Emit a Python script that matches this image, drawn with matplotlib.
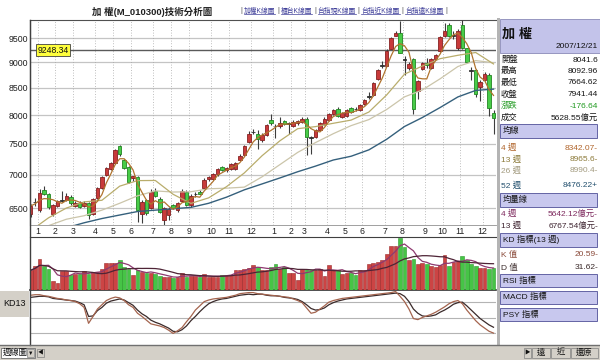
import matplotlib
matplotlib.use("Agg")
import matplotlib.pyplot as plt
import numpy as np
import pandas as pd
from matplotlib.patches import Rectangle
from matplotlib.lines import Line2D
from matplotlib.ticker import NullLocator, NullFormatter
import matplotlib.transforms as mtrans

plt.rcParams['font.family'] = ['Liberation Sans', 'Noto Sans CJK TC', 'DejaVu Sans']

# ---------------- data (weekly TAIEX) ----------------
opens = [6415, 6585, 6470, 6768, 6707, 6413, 6530, 6603, 6618, 6662,
         6530, 6574, 6530, 6574, 6413, 6647, 6798, 6997, 7092, 7187,
         7467, 7235, 7123, 6950, 6966, 6413, 6620, 6500, 6753, 6633,
         6329, 6400, 6544, 6470, 6600, 6738, 6544, 6700, 6740, 6798,
         6930, 6935, 7010, 7120, 7075, 7090, 7090, 7240, 7320, 7530,
         7700, 7660, 7560, 7650, 7910, 7805, 7805, 7893, 7850, 7805,
         7860, 7880, 7930, 7610, 7620, 7736, 7845, 7910, 8020, 8110,
         7970, 7985, 8120, 8110, 8089, 8198, 8335, 8365, 8670, 8935,
         8930, 9280, 9550, 9610, 9060, 8880, 9057, 8440, 8870, 8990,
         8890, 9060, 9220, 9540, 9770, 9550, 9300, 9780, 9290, 8840,
         8840, 8510, 8660, 8740, 8041.6]
highs = [6560, 6650, 6790, 6830, 6720, 6560, 6620, 6753, 6720, 6690,
         6600, 6600, 6600, 6590, 6650, 6810, 6980, 7130, 7200, 7420,
         7490, 7260, 7140, 6990, 6980, 6620, 6640, 6780, 6800, 6660,
         6510, 6520, 6560, 6590, 6780, 6760, 6700, 6730, 6760, 6950,
         6990, 7030, 7110, 7140, 7120, 7190, 7210, 7330, 7480, 7720,
         7760, 7730, 7680, 7850, 8010, 7850, 7960, 7920, 7870, 7920,
         7920, 7960, 7960, 7640, 7750, 7870, 7960, 8030, 8100, 8150,
         8060, 8100, 8150, 8150, 8200, 8290, 8420, 8620, 8870, 9030,
         9260, 9520, 9660, 9860, 9120, 9000, 9080, 8660, 9010, 9080,
         9080, 9160, 9540, 9820, 9830, 9650, 9690, 9890, 9300, 8900,
         8870, 8650, 8800, 8780, 8092.96]
lows = [6370, 6530, 6450, 6690, 6490, 6380, 6510, 6590, 6600, 6550,
        6510, 6500, 6510, 6340, 6400, 6630, 6780, 6980, 7070, 7170,
        7300, 7090, 6870, 6900, 6300, 6290, 6400, 6480, 6660, 6430,
        6230, 6330, 6480, 6450, 6590, 6530, 6520, 6670, 6700, 6780,
        6900, 6920, 6990, 7060, 7050, 7070, 7080, 7230, 7300, 7520,
        7670, 7420, 7540, 7640, 7830, 7600, 7780, 7830, 7660, 7790,
        7830, 7860, 7320, 7340, 7600, 7720, 7830, 7900, 8000, 7960,
        7950, 7970, 8030, 8080, 8080, 8190, 8300, 8350, 8650, 8880,
        8920, 9260, 9540, 9180, 8750, 8850, 8010, 8300, 8850, 8880,
        8870, 9040, 9200, 9530, 9530, 9480, 9250, 9260, 8990, 8650,
        8330, 8250, 8640, 7985, 7664.62]
closes = [6530, 6595, 6723, 6707, 6515, 6544, 6603, 6618, 6677, 6574,
          6574, 6515, 6570, 6399, 6633, 6798, 6966, 7108, 7187, 7399,
          7332, 7108, 6890, 6980, 6471, 6588, 6428, 6738, 6677, 6442,
          6500, 6490, 6500, 6574, 6753, 6544, 6677, 6710, 6707, 6920,
          6960, 7010, 7090, 7075, 7110, 7175, 7190, 7300, 7470, 7670,
          7700, 7580, 7650, 7823, 7865, 7800, 7858, 7840, 7855, 7880,
          7890, 7930, 7620, 7600, 7736, 7858, 7928, 8018, 8090, 7985,
          8042, 8089, 8050, 8105, 8180, 8272, 8350, 8600, 8845, 8950,
          9230, 9500, 9607, 9190, 9050, 8960, 8115, 8630, 8990, 8950,
          9057, 9140, 9520, 9660, 9540, 9560, 9660, 9290, 9010, 8820,
          8380, 8610, 8760, 8118, 7941.44]
volumes = [5100, 6100, 7900, 6200, 5350, 2300, 1860, 4840, 4840, 3820,
           4070, 4070, 4840, 4250, 4660, 4660, 5350, 6950, 6950, 6950,
           7640, 5940, 5530, 3820, 5100, 4660, 4400, 4500, 4250, 3570,
           3390, 3390, 3130, 3390, 4400, 3390, 3570, 3570, 3390, 4070,
           3390, 3390, 3390, 4000, 4000, 4000, 5270, 5100, 5530, 5780,
           6370, 5860, 5100, 5100, 5940, 6800, 5530, 5940, 4400, 4400,
           2550, 5530, 5530, 5270, 5270, 5530, 3570, 6370, 5270, 5100,
           4250, 4400, 4400, 3820, 5270, 5270, 6800, 6950, 7200, 7820,
           9350, 11460, 11460, 13570, 11030, 7820, 8070, 6800, 6950, 6800,
           6110, 5940, 6370, 9170, 6110, 7200, 7460, 8910, 7640, 6620,
           6110, 5780, 5780, 5530, 5628.55]
k_values = [92, 93, 93, 91, 90, 88, 86, 85, 83, 82,
            80, 76, 69, 39, 52, 66, 74, 82, 86, 88.5,
            87, 82, 74, 69, 58, 52, 45, 38, 36, 34,
            31, 26, 20, 25, 31, 42, 52, 64, 72, 80,
            83, 85, 86, 87, 88, 90, 92, 95, 96, 97,
            97, 95, 94, 93, 92, 91, 90, 89, 88, 85,
            82, 78, 68, 58, 60, 66, 72, 79, 82, 84,
            86, 87, 88, 89, 90, 91, 92, 93, 94, 95,
            96, 97, 99, 90, 80, 66, 48, 46, 50, 53,
            56, 60, 65, 70, 76, 80, 82, 76, 64, 54,
            44, 36, 30, 24, 20.59]
d_values = [88, 89, 90, 90, 89, 86, 85, 84, 83, 82,
            81, 78, 74, 52, 53, 63, 69, 77, 81, 83,
            85, 83, 78, 73, 64, 57, 52, 45, 41, 38,
            34, 30, 24, 23, 27, 34, 44, 52, 61, 69,
            76, 80, 83, 85, 86, 88, 90, 92, 93, 94,
            93, 94, 94, 92, 91, 91, 90, 88, 87, 86,
            84, 80, 74, 67, 64, 65, 68, 74, 78, 81,
            83, 85, 86, 87, 88, 89, 90, 91, 92, 93,
            94, 95, 96, 95, 90, 80, 66, 58, 53, 52,
            53, 55, 60, 64, 69, 75, 78, 79, 72, 64,
            56, 48, 42, 36, 31.62]
# longer moving averages, every 4th week
ma_weeks = list(range(0, 105, 4))
ma13 = [6180, 6360, 6500, 6590, 6614, 6826, 6911, 6913, 6703, 6568, 6650, 6818, 7030,
        7306, 7553, 7760, 7796, 7854, 7910, 8054, 8368, 8764, 8924, 9072, 9141, 9198, 8966]
ma26 = [6150, 6250, 6340, 6390, 6470, 6570, 6680, 6754, 6737, 6741, 6786, 6795, 6811,
        6970, 7162, 7360, 7523, 7674, 7813, 7919, 8100, 8331, 8460, 8674, 8915, 9034, 8990]
ma52 = [6080, 6150, 6220, 6290, 6350, 6400, 6450, 6470, 6490, 6510, 6570, 6660, 6770,
        6860, 6952, 7049, 7138, 7236, 7297, 7402, 7579, 7798, 7955, 8135, 8330, 8452, 8476]
month_labels = ['1', '2', '3', '4', '5', '6', '7', '8', '9', '10', '11', '12',
                '1', '2', '3', '4', '5', '6', '7', '8', '9', '10', '11', '12']
month_first_week = [2, 6, 10, 15, 19, 23, 28, 32, 36, 41, 45, 50,
                    55, 59, 62, 67, 71, 75, 80, 84, 89, 93, 97, 102]
price_ticks = [6500, 7000, 7500, 8000, 8500, 9000, 9500]
ref_price = 9248.34

info_rows = [('開盤', '8041.6'), ('最高', '8092.96'), ('最低', '7664.62'),
             ('收盤', '7941.44'), ('漲跌', '-176.64'), ('成交', '5628.55億元')]
ma_rows = [('4 週', '8342.07-'), ('13 週', '8965.6-'), ('26 週', '8990.4-'), ('52 週', '8476.22+')]
vol_rows = [('4 週', '5642.12億元-'), ('13 週', '6767.54億元-')]
kd_rows = [('K 值', '20.59-'), ('D 值', '31.62-')]
links = ['加權K線圖', '櫃台K線圖', '台指現K線圖', '台指近K線圖', '台指遠K線圖']

# ---------------- figure helpers ----------------
W, H = 600, 360
fig = plt.figure(figsize=(6, 3.6), dpi=100)
fig.patch.set_facecolor('white')


def frect(x0, y0, x1, y1):
    return [x0 / W, 1 - y1 / H, (x1 - x0) / W, (y1 - y0) / H]


def fbox(x0, y0, x1, y1, fc, ec='none', lw=0.8, z=0):
    r = Rectangle((x0 / W, 1 - y1 / H), (x1 - x0) / W, (y1 - y0) / H,
                  transform=fig.transFigure, facecolor=fc, edgecolor=ec,
                  linewidth=lw, zorder=z)
    fig.add_artist(r)
    return r


def fline(x0, y0, x1, y1, color, lw=1.0, z=5):
    fig.add_artist(Line2D([x0 / W, x1 / W], [1 - y0 / H, 1 - y1 / H],
                          transform=fig.transFigure, color=color, lw=lw, zorder=z))


def ftext(x, y, s, **kw):
    kw.setdefault('va', 'center')
    return fig.text(x / W, 1 - y / H, s, **kw)


n = len(closes)
idx = np.arange(n)
XL = (-0.16, 104.56)
o = np.array(opens, float)
c = np.array(closes, float)
hi = np.array(highs, float)
lo = np.array(lows, float)
up = c >= o
doji = np.abs(c - o) / o < 0.0025
month_pos = [m - 0.45 for m in month_first_week]

# ---------------- main price panel ----------------
ax = fig.add_axes(frect(30, 20, 496, 225))
ax.set_yscale('log')
ax.set_ylim(6259, 9890)
ax.set_xlim(*XL)
ax.yaxis.set_minor_locator(NullLocator())
ax.yaxis.set_minor_formatter(NullFormatter())
ax.set_yticks(price_ticks)
ax.set_yticklabels([str(p) for p in price_ticks])
ax.tick_params(axis='y', length=0, pad=1.5, labelsize=6.3, colors='#202020')
ax.set_xticks(month_pos)
ax.set_xticklabels(month_labels)
ax.tick_params(axis='x', length=0, pad=1.2, labelsize=6.3, colors='#202020')
for p in price_ticks:
    ax.axhline(p, color='#c4c4c4', lw=0.9, zorder=1)
for m in month_pos:
    ax.axvline(m, color='#a8a8a8', lw=0.6, ls=(0, (1, 2.2)), zorder=1)
ax.axhline(ref_price, color='#5a5a5a', lw=1.0, zorder=2)
ax.spines['right'].set_visible(False)
ax.spines['top'].set_color('#505050')
ax.spines['left'].set_color('#404040')
ax.spines['bottom'].set_color('#909090')
ax.spines['bottom'].set_linewidth(0.6)

body_fc = np.where(doji, '#303030', np.where(up, '#c83a3a', '#48cc48'))
body_ec = np.where(doji, '#303030', np.where(up, '#862222', '#228622'))
ax.vlines(idx, lo, hi, color='#3c3c3c', lw=0.8, zorder=3)
bot = np.minimum(o, c)
top = np.maximum(o, c)
ax.bar(idx, top - bot, bottom=bot, width=0.8, color=body_fc, edgecolor=body_ec,
       linewidth=0.6, zorder=4)

ma4 = pd.Series(closes).rolling(4, min_periods=1).mean()
ax.plot(ma_weeks, ma52, color='#35607c', lw=1.0, zorder=5)
ax.plot(ma_weeks, ma26, color='#cbc5aa', lw=0.9, zorder=5)
ax.plot(ma_weeks, ma13, color='#b9ad6c', lw=0.9, zorder=5)
ax.plot(idx, ma4, color='#b0742e', lw=0.9, zorder=6)

trans = mtrans.blended_transform_factory(ax.transAxes, ax.transData)
ax.text((53 - 30) / 466, ref_price, f'{ref_price:.2f}', transform=trans,
        ha='center', va='center', fontsize=6.2, color='#101010', zorder=8,
        bbox=dict(facecolor='#ffff3c', edgecolor='#404040', linewidth=0.6,
                  boxstyle='square,pad=0.18'))

# ---------------- volume panel ----------------
vax = fig.add_axes(frect(30, 237, 496, 290))
vcol = np.where(up, '#cc4444', '#46c446')
vedge = np.where(up, '#9a2a2a', '#2a9a2a')
vax.bar(idx, volumes, width=0.84, color=vcol, edgecolor=vedge, linewidth=0.4, zorder=3)
vol4 = pd.Series(volumes).rolling(4, min_periods=1).mean()
vol13 = pd.Series(volumes).rolling(13, min_periods=1).mean()
vax.plot(idx, vol4, color='#8e3a70', lw=0.9, zorder=4)
vax.plot(idx, vol13, color='#4e2436', lw=0.9, zorder=4)
vax.set_xlim(*XL)
vax.set_ylim(0, 13700)
vax.set_xticks([])
vax.set_yticks([])
for s in ['right', 'left']:
    vax.spines[s].set_visible(False)
vax.spines['top'].set_color('#404040')
vax.spines['bottom'].set_color('#303030')
vax.spines['bottom'].set_linewidth(1.2)

# ---------------- KD panel ----------------
kax = fig.add_axes(frect(30, 291, 496, 344))
for v in (20, 50, 80):
    kax.axhline(v, color='#b4b4b4', lw=0.8, zorder=1)
kax.plot(idx, d_values, color='#3a2a2a', lw=0.9, zorder=3)
kax.plot(idx, k_values, color='#a4644e', lw=0.9, zorder=4)
kax.set_xlim(*XL)
kax.set_ylim(0, 100)
kax.set_xticks([])
kax.set_yticks([])
for s in ['right', 'left', 'top', 'bottom']:
    kax.spines[s].set_visible(False)

# left border through the panels
fline(29.5, 20, 29.5, 345, '#404040', lw=1.0)

fbox(0, 290.5, 28.5, 317, '#d4d0c8', z=1)
ftext(14, 304, 'KD13', ha='center', fontsize=6.5, color='#101010')

# separator between chart and info panel
fbox(496.5, 18, 500, 345, '#b4b4b4', z=1)

# ---------------- bottom strip ----------------
fbox(0, 345, 600, 360, '#d4d0c8', z=1)
fline(0, 345, 600, 345, '#707070', lw=1.0)
fbox(1, 347.5, 35, 358, 'white', ec='#707070', lw=0.6, z=2)
ftext(2.5, 353, '週線圖', fontsize=6, color='#101010', zorder=3)
fbox(26.5, 348.5, 34, 357, '#d4d0c8', ec='#808080', lw=0.5, z=3)
ftext(30.3, 353, '▼', fontsize=4, ha='center', color='#101010', zorder=4)
fbox(37, 348.5, 44, 357, '#d4d0c8', ec='#808080', lw=0.5, z=3)
ftext(40.5, 353, '◀', fontsize=4, ha='center', color='#101010', zorder=4)
fbox(524, 347.5, 531, 358, '#d4d0c8', ec='#808080', lw=0.5, z=3)
ftext(527.5, 353, '▶', fontsize=4, ha='center', color='#101010', zorder=4)
for (x0, x1, s) in [(532, 550, '遠'), (551, 570, '近'), (571, 598, '還原')]:
    fbox(x0, 347.5, x1, 358, '#d4d0c8', ec='#808080', lw=0.5, z=3)
    ftext((x0 + x1) / 2, 353, s, fontsize=6, ha='center', color='#101010', zorder=4)

# ---------------- title and links ----------------
ftext(152, 12, '加 權(M_010300)技術分析圖', ha='center', fontsize=6.8,
      fontweight='bold', color='#202020')

fig.canvas.draw()
renderer = fig.canvas.get_renderer()
xcur = 240
link_color = '#40409a'
link_fs = 4.9
for name in links:
    bar = ftext(xcur, 11, '|', fontsize=link_fs, color='#505050')
    xcur += bar.get_window_extent(renderer).width + 1.8
    t = ftext(xcur, 11, name, fontsize=link_fs, color=link_color)
    bb = t.get_window_extent(renderer)
    fig.add_artist(Line2D([bb.x0 / W, bb.x1 / W], [(bb.y0 + 0.3) / H] * 2,
                          transform=fig.transFigure, color=link_color, lw=0.5))
    xcur += bb.width + 1.8
ftext(xcur, 11, '|', fontsize=link_fs, color='#505050')

# ---------------- info panel ----------------
hdr = '#c3c3ea'
sec_fc = '#c8c8ee'
sec_ec = '#6464a4'
fbox(500, 19, 600, 53, hdr, ec='#8a8ab8', lw=0.6, z=1)
ftext(501.5, 34.5, '加 權', fontsize=9.5, fontweight='bold', color='#101010')
ftext(598, 46.5, '2007/12/21', ha='right', fontsize=6, color='#101010')

row_y = [60, 71.5, 83, 94.5, 106, 117.5]
for (lab, val), y in zip(info_rows, row_y):
    col = '#209a20' if lab == '漲跌' else '#151515'
    ftext(501, y, lab, fontsize=6, color=col)
    ftext(598, y, val, ha='right', fontsize=6, color=col)


def section(y0, y1, label):
    fbox(500.5, y0, 597, y1, sec_fc, ec=sec_ec, lw=0.7, z=1)
    ftext(503, (y0 + y1) / 2, label, fontsize=6, color='#151515')


section(124, 138, '均線')
ma_cols = ['#b0642a', '#8c7a3a', '#a29a7e', '#23506e']
for (lab, val), y, col in zip(ma_rows, [148, 159.5, 171, 185.5], ma_cols):
    ftext(501, y, lab, fontsize=6, color=col)
    ftext(598, y, val, ha='right', fontsize=6, color=col)

section(193.5, 207, '均量線')
for (lab, val), y, col in zip(vol_rows, [214, 226], ['#7e2a5e', '#3e2430']):
    ftext(501, y, lab, fontsize=6, color=col)
    ftext(598, y, val, ha='right', fontsize=6, color=col)

section(232.5, 246.5, 'KD 指標(13 週)')
for (lab, val), y, col in zip(kd_rows, [255, 267.5], ['#8a4a3a', '#3a2a2a']):
    ftext(501, y, lab, fontsize=6, color=col)
    ftext(598, y, val, ha='right', fontsize=6, color=col)

section(274, 287, 'RSI 指標')
section(291, 304, 'MACD 指標')
section(308, 321, 'PSY 指標')

fig.savefig('out.png', dpi=100)
